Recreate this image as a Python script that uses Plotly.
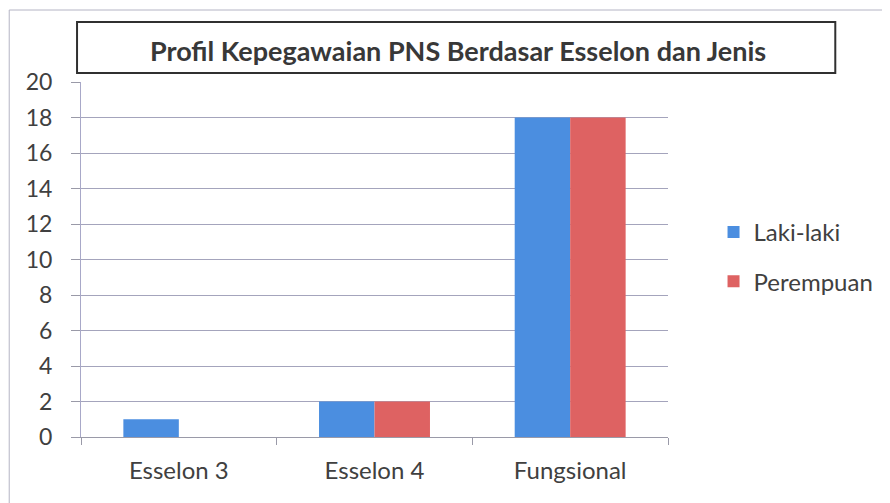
import plotly.graph_objects as go

categories = ["Esselon 3", "Esselon 4", "Fungsional"]
laki_laki = [1, 2, 18]
perempuan = [0, 2, 18]
y_ticks = [0, 2, 4, 6, 8, 10, 12, 14, 16, 18, 20]

title_text = "Profil Kepegawaian PNS Berdasar Esselon dan Jenis"
FONT = "Lato, Open Sans, sans-serif"
TXT = "#404040"

fig = go.Figure()
fig.add_trace(go.Bar(x=categories, y=laki_laki, name="Laki-laki", legendgroup="a",
                     marker=dict(color="#4b8ee0", line=dict(width=0))))
fig.add_trace(go.Bar(x=categories, y=perempuan, name="Perempuan", legendgroup="b",
                     marker=dict(color="#de6262", line=dict(width=0))))

OFF = 8  # page body margin
W, H = 890 - OFF, 503 - OFF
# plot area in screen coordinates
SL, SR, ST, SB = 81, 674, 82, 437
L, R, T, B = SL - OFF, SR - OFF, ST - OFF, SB - OFF
pw, ph = R - L, B - T

def px(sx):
    return (sx - SL) / pw

def py(sy):
    return (SB - sy) / ph

shapes = [
    # outer frame
    dict(type="rect", xref="paper", yref="paper", x0=px(8.5), x1=px(920), y0=py(540), y1=py(10),
         line=dict(color="#b4b4c4", width=1), fillcolor="rgba(0,0,0,0)", layer="below"),
    # title box
    dict(type="rect", xref="paper", yref="paper", x0=px(77), x1=px(843), y0=py(73), y1=py(22),
         line=dict(color="#303030", width=2), fillcolor="rgba(0,0,0,0)"),
]

fig.update_layout(
    width=W, height=H,
    margin=dict(l=L, r=W - R, t=T, b=H - B),
    paper_bgcolor="white", plot_bgcolor="white",
    barmode="group", bargap=0.433, bargroupgap=0,
    font=dict(family=FONT, color=TXT, size=24),
    shapes=shapes,
    annotations=[dict(text="<b>" + title_text + "</b>", xref="paper", yref="paper",
                      x=px(462), y=py(51), xanchor="center", yanchor="middle",
                      showarrow=False, font=dict(size=27, color="#383838", family=FONT))],
    legend=dict(x=px(720), y=py(257), xanchor="left", yanchor="middle",
                font=dict(size=24, color=TXT), bgcolor="rgba(0,0,0,0)",
                traceorder="grouped", tracegroupgap=15),
    xaxis=dict(showgrid=False, showline=True, linecolor="#9a9aa8", linewidth=1,
               ticks="outside", tickson="boundaries", ticklen=7, tickcolor="#9a9aa8",
               tickfont=dict(size=24, color=TXT), ticklabelstandoff=12),
    yaxis=dict(range=[0, 20], tickvals=y_ticks, showgrid=True, gridcolor="#a4a4bc", gridwidth=1,
               showline=True, linecolor="#a8a8c8", linewidth=1, zeroline=False,
               ticks="outside", ticklen=9, tickcolor="#9a9aa8",
               tickfont=dict(size=23, color=TXT), ticklabelstandoff=14),
)

fig.write_html("out.html")
